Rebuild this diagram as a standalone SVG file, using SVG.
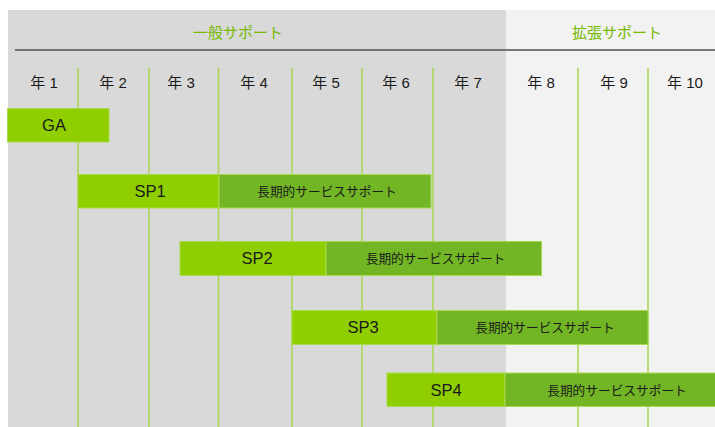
<svg xmlns="http://www.w3.org/2000/svg" width="715" height="427" viewBox="0 0 715 427">
<style>
.hdr{font-family:"Noto Sans CJK JP","Liberation Sans",sans-serif;font-size:15px;fill:#76b900;text-anchor:middle}
.yr{font-family:"Liberation Sans","Noto Sans CJK JP",sans-serif;font-size:15px;fill:#1a1a1a;text-anchor:middle}
.grid{stroke:#a9d64e;stroke-width:1.5}
.lt{fill:#8fcf00;stroke:#a9d94f;stroke-width:1}
.dk{fill:#72b626;stroke:#a9d94f;stroke-width:1}
.bl{font-family:"Liberation Sans",sans-serif;font-size:16.5px;fill:#1a1a1a;text-anchor:middle}
.jl{font-family:"Noto Sans CJK JP","Liberation Sans",sans-serif;font-size:12.7px;fill:#1a1a1a;text-anchor:middle}
</style>
<rect x="0" y="0" width="715" height="427" fill="#ffffff"/>
<g id="background">
<rect x="8" y="10" width="498" height="417" fill="#d9d9d9"/>
<rect x="506" y="10" width="209" height="417" fill="#f2f2f2"/>
<line x1="15" y1="50" x2="715" y2="50" stroke="#4a5053" stroke-width="1.5"/>
<text class="hdr" x="238" y="38">一般サポート</text>
<text class="hdr" x="617" y="38">拡張サポート</text>
</g>
<g id="connectors">
<line class="grid" x1="78" y1="68" x2="78" y2="427"/>
<line class="grid" x1="149" y1="68" x2="149" y2="427"/>
<line class="grid" x1="218.5" y1="68" x2="218.5" y2="427"/>
<line class="grid" x1="292" y1="68" x2="292" y2="427"/>
<line class="grid" x1="362" y1="68" x2="362" y2="427"/>
<line class="grid" x1="433" y1="68" x2="433" y2="427"/>
<line class="grid" x1="578" y1="68" x2="578" y2="427"/>
<line class="grid" x1="648" y1="68" x2="648" y2="427"/>
</g>
<g id="years">
<text class="yr" x="44" y="88">年 1</text>
<text class="yr" x="113" y="88">年 2</text>
<text class="yr" x="181" y="88">年 3</text>
<text class="yr" x="254" y="88">年 4</text>
<text class="yr" x="326" y="88">年 5</text>
<text class="yr" x="396" y="88">年 6</text>
<text class="yr" x="468" y="88">年 7</text>
<text class="yr" x="541" y="88">年 8</text>
<text class="yr" x="614" y="88">年 9</text>
<text class="yr" x="685" y="88">年 10</text>
</g>
<g id="ga">
<rect class="lt" x="7.5" y="108.5" width="101.5" height="33.5"/>
<text class="bl" x="54" y="131">GA</text>
</g>
<g id="sp1">
<rect class="lt" x="78" y="174.5" width="141" height="33.5"/>
<rect class="dk" x="219" y="174.5" width="212" height="33.5"/>
<text class="bl" x="150" y="197">SP1</text>
<text class="jl" x="327" y="196">長期的サービスサポート</text>
</g>
<g id="sp2">
<rect class="lt" x="180" y="241.5" width="146" height="34"/>
<rect class="dk" x="326" y="241.5" width="215.5" height="34"/>
<text class="bl" x="257" y="264">SP2</text>
<text class="jl" x="435.5" y="263">長期的サービスサポート</text>
</g>
<g id="sp3">
<rect class="lt" x="292" y="310.5" width="145" height="34"/>
<rect class="dk" x="437" y="310.5" width="211" height="34"/>
<text class="bl" x="363" y="333">SP3</text>
<text class="jl" x="545" y="332">長期的サービスサポート</text>
</g>
<g id="sp4">
<rect class="lt" x="387" y="373" width="118" height="33.5"/>
<rect class="dk" x="505" y="373" width="212" height="33.5"/>
<text class="bl" x="446" y="395.5">SP4</text>
<text class="jl" x="617" y="394.5">長期的サービスサポート</text>
</g>
</svg>
